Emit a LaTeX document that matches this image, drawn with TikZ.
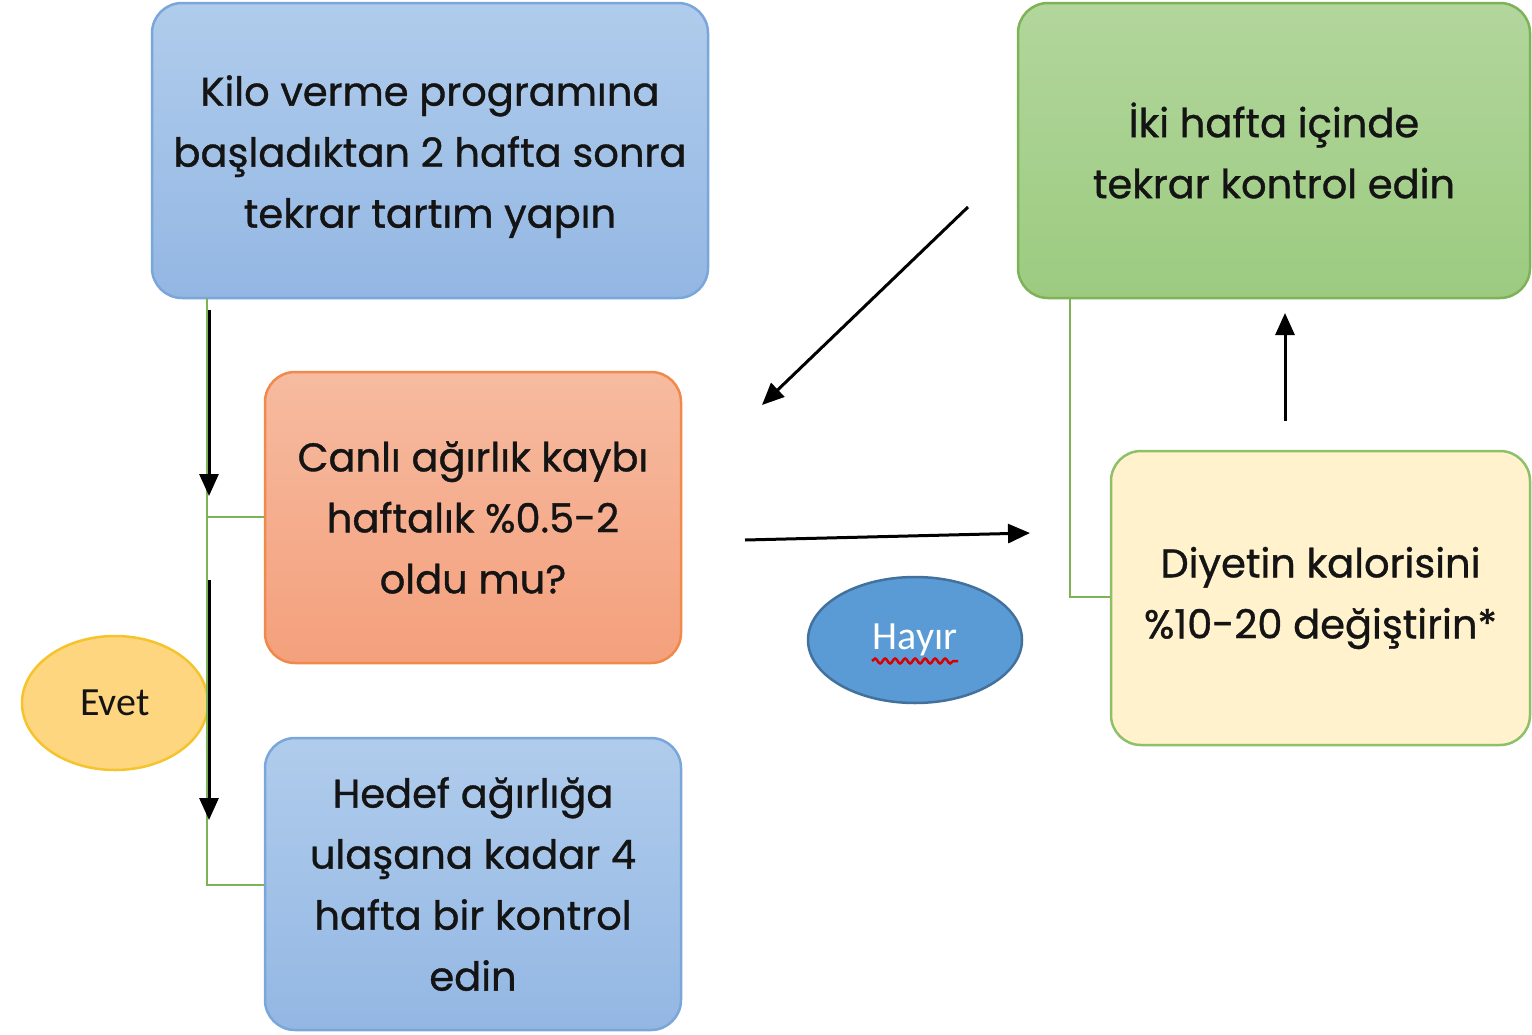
\documentclass[tikz,border=0pt]{standalone}
\usepackage{fontspec}
\setmainfont{Poppins}
\newfontfamily\boxfont[FakeBold=0.9]{Poppins}
\newfontfamily\calib{Carlito}
\usetikzlibrary{shapes.geometric,arrows.meta,decorations.pathmorphing}
\definecolor{bluefillA}{HTML}{B0CCEC}
\definecolor{bluefillB}{HTML}{93B7E3}
\definecolor{blueline}{HTML}{7AA6DA}
\definecolor{orfillA}{HTML}{F6BBA0}
\definecolor{orfillB}{HTML}{F4A07C}
\definecolor{orline}{HTML}{F0894A}
\definecolor{grfillA}{HTML}{B2D69C}
\definecolor{grfillB}{HTML}{9CCB80}
\definecolor{grline}{HTML}{7DB356}
\definecolor{yefill}{HTML}{FFF2CC}
\definecolor{yeline}{HTML}{8DC068}
\definecolor{evfill}{HTML}{FFD680}
\definecolor{evline}{HTML}{F5C42C}
\definecolor{hyfill}{HTML}{5B9BD5}
\definecolor{hyline}{HTML}{41719C}
\definecolor{txt}{HTML}{141414}
\tikzset{
  box/.style={rectangle, rounded corners=30pt, line width=2.5pt, inner sep=0pt, align=center,
    text=txt, font=\boxfont\fontsize{40}{61}\selectfont},
  bluebox/.style={box, draw=blueline, top color=bluefillA, bottom color=bluefillB},
  orbox/.style={box, draw=orline, top color=orfillA, bottom color=orfillB},
  grbox/.style={box, draw=grline, top color=grfillA, bottom color=grfillB},
  yebox/.style={box, draw=yeline, fill=yefill},
  oval/.style={ellipse, inner sep=0pt, line width=2.5pt},
  elbow/.style={draw=grline, line width=2pt},
  arr/.style={draw=black, line width=3pt, -{Triangle[length=22pt,width=19pt]}},
}
\begin{document}
\begin{tikzpicture}[x=1pt,y=-1pt]
\useasboundingbox (0,0) rectangle (1532,1034);
% boxes
\node[bluebox, minimum width=556pt, minimum height=295pt] (b1) at (430,150.5)
  {\strut Kilo verme programına\\başladıktan 2 hafta sonra\\tekrar tartım yapın};
\node[orbox, minimum width=416pt, minimum height=291pt] (b2) at (473,517.5)
  {Canlı ağırlık kaybı\\haftalık \%0.5-2\\oldu mu?};
\node[bluebox, minimum width=416pt, minimum height=292pt] (b3) at (473,884)
  {Hedef ağırlığa\\ulaşana kadar 4\\hafta bir kontrol\\edin};
\node[grbox, minimum width=512pt, minimum height=295pt] (g1) at (1274,150.5)
  {İki hafta içinde\\tekrar kontrol edin};
\node[yebox, minimum width=419pt, minimum height=294pt] (y1) at (1320.5,598)
  {Diyetin kalorisini\\\%10-20 değiştirin*};
% ellipses
\node[oval, draw=evline, fill=evfill, minimum width=186pt, minimum height=134pt,
  font=\calib\fontsize{40}{44}\selectfont, text=txt] (ev) at (115,703) {Evet};
\node[oval, draw=hyline, fill=hyfill, minimum width=214pt, minimum height=126pt,
  font=\calib\fontsize{40}{44}\selectfont, text=white] (hy) at (915,640) {Hayır};
\draw[red!85!black, line width=2.5pt, decorate, decoration={snake, amplitude=2.5pt, segment length=10pt}]
  ([xshift=-43pt,yshift=-21pt]hy.center) -- ([xshift=43pt,yshift=-21pt]hy.center);
% green elbows
\coordinate (lt) at (207,298);
\coordinate (lm) at (207,517);
\coordinate (lb) at (207,885);
\draw[elbow] (lt) -- (lb) -- (b3.west |- lb);
\draw[elbow] (lm) -- (b2.west |- lm);
\coordinate (gt) at (1070,298);
\coordinate (gb) at (1070,597);
\draw[elbow] (gt) -- (gb) -- (y1.west |- gb);
% black arrows
\coordinate (a1s) at (209,310); \coordinate (a1e) at (209,496);
\coordinate (a2s) at (209,580); \coordinate (a2e) at (209,820);
\coordinate (a3s) at (968,207); \coordinate (a3e) at (762,405);
\coordinate (a4s) at (745,540); \coordinate (a4e) at (1030,533);
\coordinate (a5s) at (1285,421); \coordinate (a5e) at (1285,313);
\draw[arr] (a1s) -- (a1e);
\draw[arr] (a2s) -- (a2e);
\draw[arr] (a3s) -- (a3e);
\draw[arr] (a4s) -- (a4e);
\draw[arr] (a5s) -- (a5e);
\end{tikzpicture}
\end{document}
